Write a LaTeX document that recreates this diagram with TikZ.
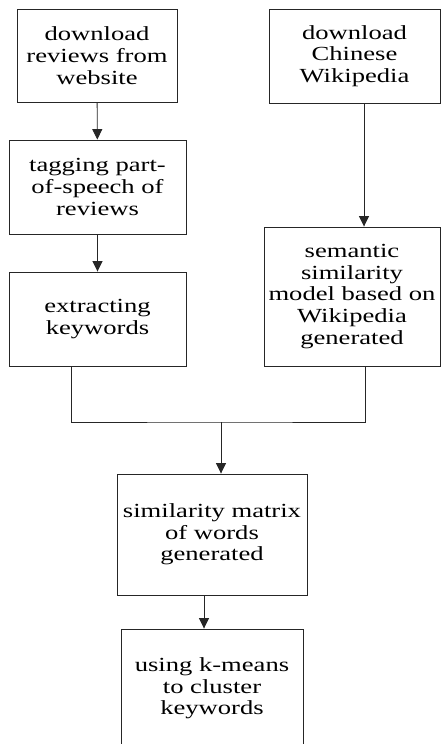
\documentclass[tikz,border=0pt]{standalone}
\usepackage{fontspec}
\setmainfont{Liberation Serif}[FakeStretch=1.33]
\usepackage{tikz}
\usetikzlibrary{arrows.meta}

\begin{document}
\begin{tikzpicture}[x=1pt,y=-1pt,
    box/.style={draw=black!85,line width=0.9pt,align=center,inner sep=2pt,
                font=\fontsize{20}{21.7}\selectfont},
    arr/.style={draw=black!85,line width=0.9pt,-{Triangle[length=10.5pt,width=10pt]}}]
  \useasboundingbox (0,0) rectangle (441,744);
  \clip (0,0) rectangle (441,744);

  % left column
  \node[box,minimum width=160pt,minimum height=93pt] (reviews) at (97,55.5)
    {download\\reviews from\\website};
  \node[box,minimum width=177pt,minimum height=94pt] (tagging) at (97.5,187)
    {tagging part-\\of-speech of\\reviews};
  \node[box,minimum width=177pt,minimum height=94pt] (keywords) at (97.5,319)
    {extracting\\keywords};

  % right column
  \node[box,minimum width=171pt,minimum height=94pt] (wiki) at (354.5,56)
    {download\\Chinese\\Wikipedia};
  \node[box,minimum width=176pt,minimum height=139pt] (model) at (352,296.5)
    {semantic\\similarity\\model based on\\Wikipedia\\generated};

  % bottom
  \node[box,minimum width=190pt,minimum height=121pt] (simmat) at (212,534.5)
    {similarity matrix\\of words\\generated};
  \node[box,minimum width=182pt,minimum height=119pt] (kmeans) at (212,688.5)
    {using k-means\\to cluster\\keywords};

  \draw[arr] (reviews) -- (tagging);
  \draw[arr] (tagging) -- (keywords);
  \draw[arr] ([xshift=9.5pt]wiki.south) -- ([xshift=9.5pt]wiki.south |- model.north);

  % merge both branches
  \coordinate (join) at (221,422);
  \draw[draw=black!85,line width=0.9pt] ([xshift=-26.5pt]keywords.south) |- (join)
    -| ([xshift=13pt]model.south);
  \draw[arr] (join) -- (join |- simmat.north);
  \draw[arr] ([xshift=-8pt]simmat.south) -- ([xshift=-8pt]simmat.south |- kmeans.north);
\end{tikzpicture}
\end{document}
